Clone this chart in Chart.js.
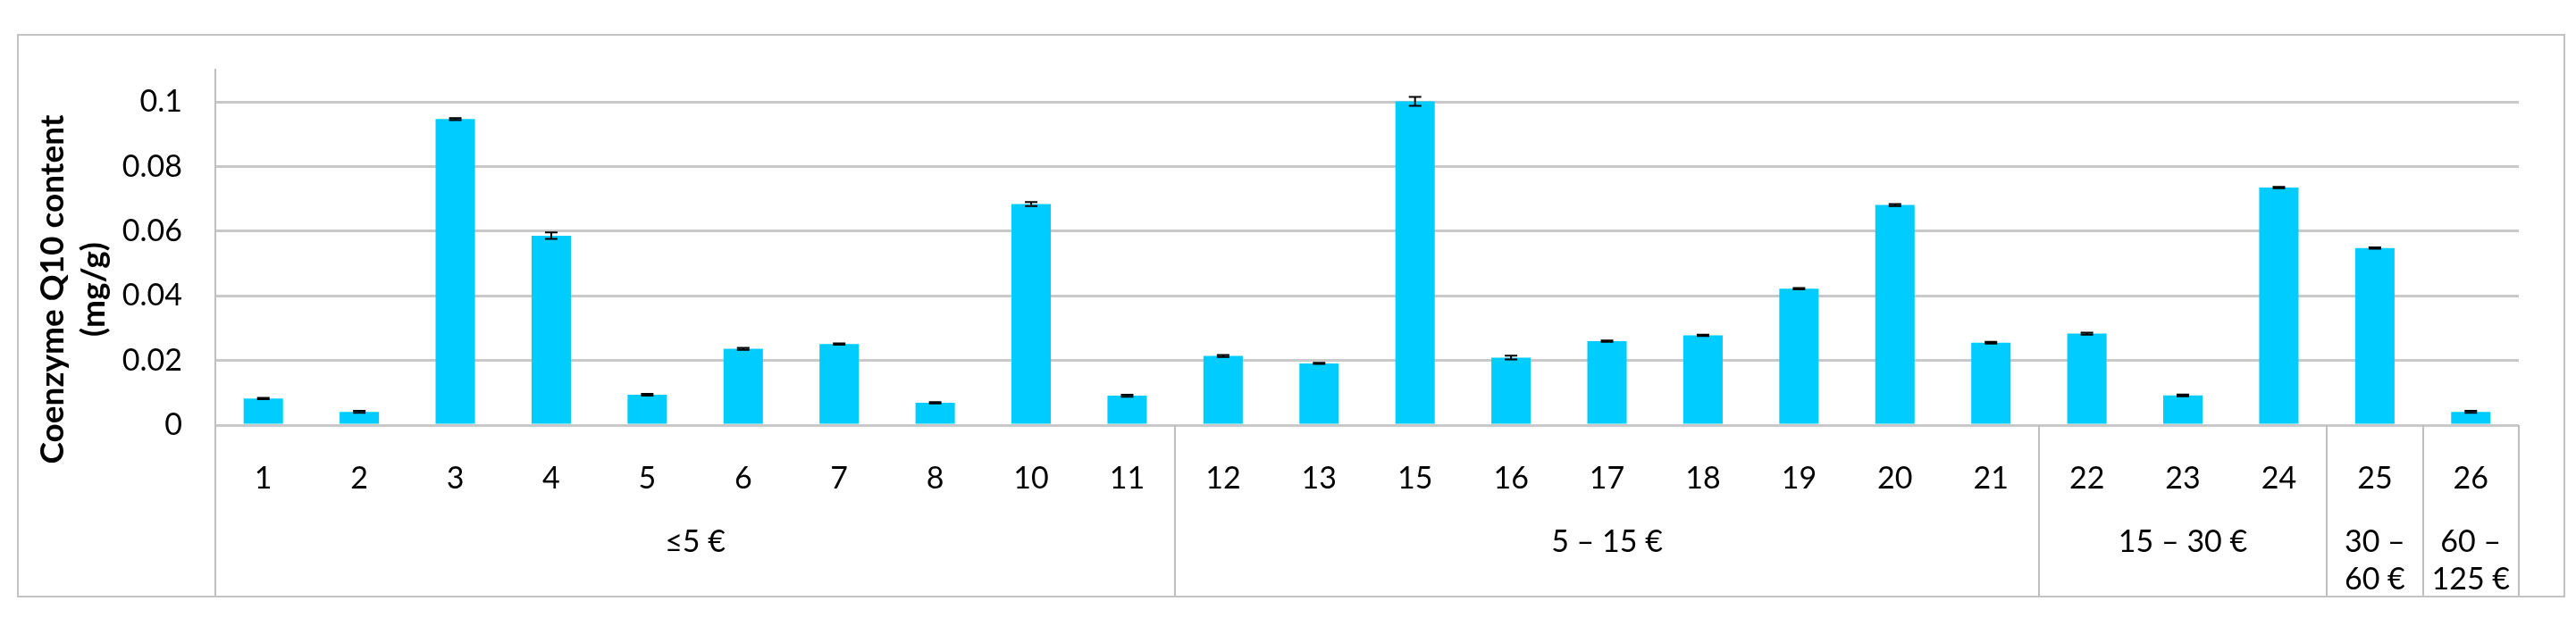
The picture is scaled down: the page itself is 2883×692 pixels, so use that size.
<!DOCTYPE html>
<html>
<head>
<meta charset="utf-8">
<script src="https://cdn.jsdelivr.net/npm/chart.js@4.4.1/dist/chart.umd.min.js"></script>
<style>
    body { margin: 0; background: #fff; }
    #frame {
        position: absolute;
        left: 19px;
        top: 38px;
        width: 2848px;
        height: 627px;
        border: 2px solid #c3c3c3;
    }
</style>
</head>
<body>
<div id="frame"><canvas id="q10Chart" width="2848" height="627"></canvas></div>
<script>
// data
const sampleLabels = ["1", "2", "3", "4", "5", "6", "7", "8", "10", "11",
    "12", "13", "15", "16", "17", "18", "19", "20", "21",
    "22", "23", "24", "25", "26"];
const q10Content = [0.0082, 0.0041, 0.0947, 0.0586, 0.0094, 0.0236, 0.0251, 0.0069, 0.0684, 0.0091,
    0.0214, 0.0191, 0.1002, 0.0209, 0.0260, 0.0278, 0.0422, 0.0681, 0.0255,
    0.0283, 0.0092, 0.0735, 0.0548, 0.0041];
const q10Error = [0.0002, 0.0003, 0.0003, 0.0010, 0.0003, 0.0003, 0.0002, 0.0002, 0.0006, 0.0003,
    0.0003, 0.0002, 0.0014, 0.0006, 0.0002, 0.0002, 0.0002, 0.0003, 0.0003,
    0.0003, 0.0003, 0.0002, 0.0002, 0.0003];
const priceGroups = ["≤5 €", "5 – 15 €", "15 – 30 €", ["30 –", "60 €"], ["60 –", "125 €"]];
const groupSizes = [10, 9, 3, 1, 1];
const yTicks = [0, 0.02, 0.04, 0.06, 0.08, 0.1];
const yTitle = ["Coenzyme Q10 content", "(mg/g)"];

const labelFont = "Lato, 'Liberation Sans', sans-serif";

const extras = {
    id: "extras",
    afterDatasetsDraw(chart) {
        const { ctx, scales: { x, y } } = chart;
        ctx.save();
        ctx.strokeStyle = "#000";
        ctx.lineWidth = 2;
        q10Content.forEach((v, i) => {
            const px = x.getPixelForValue(i);
            const top = y.getPixelForValue(v + q10Error[i]);
            const bot = y.getPixelForValue(v - q10Error[i]);
            ctx.beginPath();
            ctx.moveTo(px, top); ctx.lineTo(px, bot);
            ctx.moveTo(px - 7, top); ctx.lineTo(px + 7, top);
            ctx.moveTo(px - 7, bot); ctx.lineTo(px + 7, bot);
            ctx.stroke();
        });
        ctx.restore();
    },
    afterDraw(chart) {
        const { ctx, chartArea, scales: { x } } = chart;
        const half = (chartArea.right - chartArea.left) / sampleLabels.length / 2;
        const bottom = chart.height;
        ctx.save();
        ctx.strokeStyle = "#bfbfbf";
        ctx.lineWidth = 2;
        ctx.fillStyle = "#000";
        ctx.font = "34px " + labelFont;
        ctx.textAlign = "center";
        ctx.textBaseline = "middle";

        let start = 0;
        const edges = [chartArea.left];
        groupSizes.forEach((n, g) => {
            const left = x.getPixelForValue(start) - half;
            const right = x.getPixelForValue(start + n - 1) + half;
            edges.push(right);
            const mid = (left + right) / 2;
            const text = Array.isArray(priceGroups[g]) ? priceGroups[g] : [priceGroups[g]];
            text.forEach((t, k) => ctx.fillText(t, mid, chartArea.bottom + 131 + k * 42));
            start += n;
        });
        edges.forEach(ex => {
            ctx.beginPath();
            ctx.moveTo(Math.round(ex), chartArea.bottom);
            ctx.lineTo(Math.round(ex), bottom);
            ctx.stroke();
        });

        // y axis title, two lines
        ctx.font = "bold 37px " + labelFont;
        const cy = chartArea.top + 246;
        yTitle.forEach((t, k) => {
            ctx.save();
            ctx.translate(38 + k * 46, cy);
            ctx.rotate(-Math.PI / 2);
            ctx.fillText(t, 0, 0);
            ctx.restore();
        });
        ctx.restore();
    }
};

new Chart(document.getElementById("q10Chart"), {
    type: "bar",
    data: {
        labels: sampleLabels,
        datasets: [{
            data: q10Content,
            backgroundColor: "#00ccff",
            barPercentage: 0.41,
            categoryPercentage: 1
        }]
    },
    options: {
        responsive: false,
        animation: false,
        devicePixelRatio: 1,
        layout: { padding: { top: 38, right: 50, left: 0, bottom: 0 } },
        plugins: { legend: { display: false }, tooltip: { enabled: false } },
        scales: {
            x: {
                grid: { display: false },
                border: { display: false },
                ticks: {
                    color: "#000",
                    font: { family: labelFont, size: 34 },
                    padding: 32,
                    maxRotation: 0,
                    autoSkip: false
                },
                afterFit: s => { s.height = 191; s.paddingLeft = 0; s.paddingRight = 0; }
            },
            y: {
                min: 0,
                max: 0.11,
                grid: { color: "#c9c9c9", lineWidth: 3, drawTicks: false },
                border: { color: "#bfbfbf", width: 2 },
                afterBuildTicks: s => { s.ticks = yTicks.map(v => ({ value: v })); },
                ticks: {
                    color: "#000",
                    font: { family: labelFont, size: 34 },
                    padding: 37,
                    callback: v => String(+v.toFixed(2))
                },
                afterFit: s => { s.width = 220; s.paddingTop = 0; s.paddingBottom = 0; }
            }
        }
    },
    plugins: [extras]
});
</script>
</body>
</html>
